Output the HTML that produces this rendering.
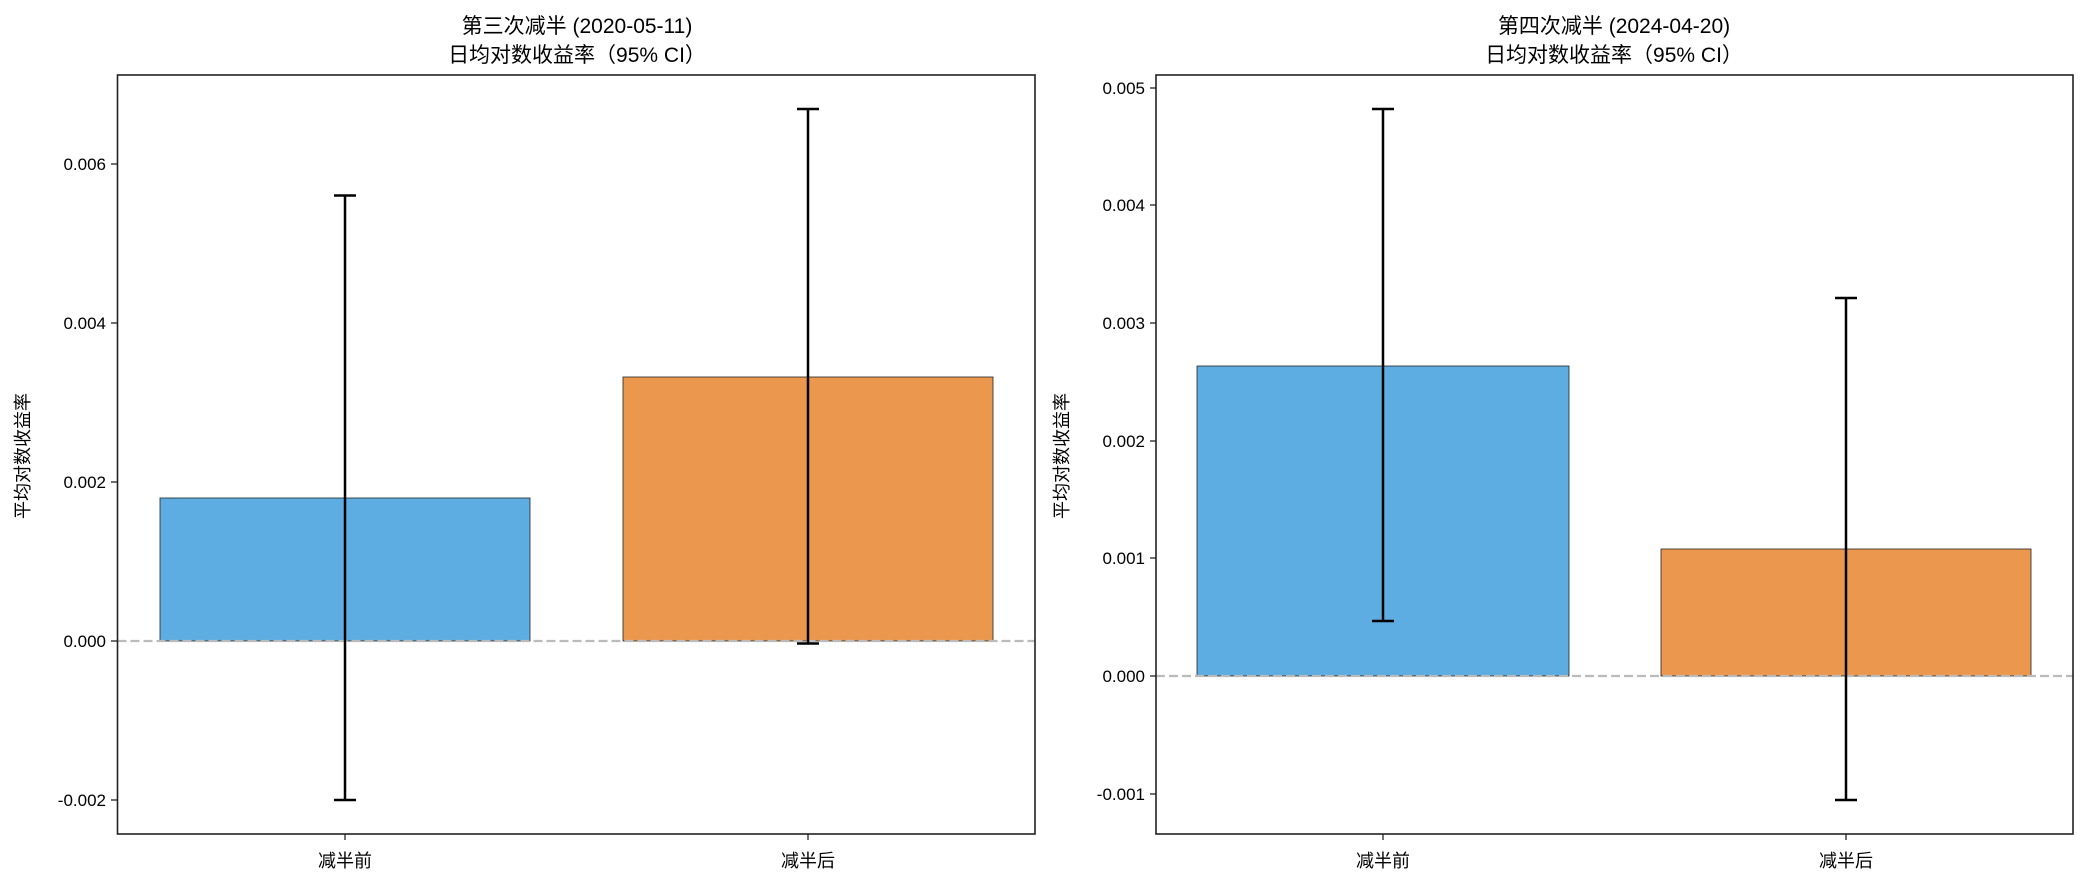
<!DOCTYPE html>
<html><head><meta charset="utf-8"><style>
body{margin:0;background:#fff}
text{font-family:"Liberation Sans","Noto Sans CJK SC",sans-serif;fill:#000}
</style></head><body>
<svg width="2085" height="884" viewBox="0 0 2085 884" xmlns="http://www.w3.org/2000/svg">
<rect width="2085" height="884" fill="#fff"/>
<g>
<text x="577" y="33" font-size="21" text-anchor="middle">第三次减半 (2020-05-11)</text>
<text x="577" y="62" font-size="21" text-anchor="middle">日均对数收益率（95% CI）</text>
<rect x="160" y="498" width="370" height="143" fill="#5dade2" stroke="#222" stroke-width="0.8"/>
<rect x="623" y="377" width="370" height="264" fill="#eb984e" stroke="#222" stroke-width="0.8"/>
<line x1="117.5" y1="641" x2="1035" y2="641" stroke="#bbb" stroke-width="2.2" stroke-dasharray="9,4"/>
<g stroke="#000" stroke-width="2.5">
<line x1="345" y1="195.5" x2="345" y2="800"/><line x1="334" y1="195.5" x2="356" y2="195.5"/><line x1="334" y1="800" x2="356" y2="800"/>
<line x1="808" y1="109" x2="808" y2="643.5"/><line x1="797" y1="109" x2="819" y2="109"/><line x1="797" y1="643.5" x2="819" y2="643.5"/>
</g>
<rect x="117.5" y="75" width="917.5" height="759" fill="none" stroke="#222" stroke-width="1.6"/>
<g stroke="#222" stroke-width="1.3">
<line x1="111" y1="164" x2="117.5" y2="164"/><line x1="111" y1="323" x2="117.5" y2="323"/><line x1="111" y1="482" x2="117.5" y2="482"/><line x1="111" y1="641" x2="117.5" y2="641"/><line x1="111" y1="800" x2="117.5" y2="800"/>
<line x1="345" y1="834" x2="345" y2="840"/><line x1="808" y1="834" x2="808" y2="840"/>
</g>
<g font-size="17" text-anchor="end">
<text x="106" y="170">0.006</text><text x="106" y="329">0.004</text><text x="106" y="488">0.002</text><text x="106" y="647">0.000</text><text x="106" y="806">-0.002</text>
</g>
<g font-size="18" text-anchor="middle"><text x="345" y="867">减半前</text><text x="808" y="867">减半后</text></g>
<text transform="translate(29,456) rotate(-90)" font-size="18" text-anchor="middle">平均对数收益率</text>
</g>
<g>
<text x="1614" y="33" font-size="21" text-anchor="middle">第四次减半 (2024-04-20)</text>
<text x="1614" y="62" font-size="21" text-anchor="middle">日均对数收益率（95% CI）</text>
<rect x="1197" y="366" width="372" height="310" fill="#5dade2" stroke="#222" stroke-width="0.8"/>
<rect x="1661" y="549" width="370" height="127" fill="#eb984e" stroke="#222" stroke-width="0.8"/>
<line x1="1156" y1="676" x2="2073" y2="676" stroke="#bbb" stroke-width="2.2" stroke-dasharray="9,4"/>
<g stroke="#000" stroke-width="2.5">
<line x1="1383" y1="109" x2="1383" y2="621"/><line x1="1372" y1="109" x2="1394" y2="109"/><line x1="1372" y1="621" x2="1394" y2="621"/>
<line x1="1846" y1="298" x2="1846" y2="800"/><line x1="1835" y1="298" x2="1857" y2="298"/><line x1="1835" y1="800" x2="1857" y2="800"/>
</g>
<rect x="1156" y="75" width="917" height="759" fill="none" stroke="#222" stroke-width="1.6"/>
<g stroke="#222" stroke-width="1.3">
<line x1="1150" y1="88" x2="1156" y2="88"/><line x1="1150" y1="205" x2="1156" y2="205"/><line x1="1150" y1="323" x2="1156" y2="323"/><line x1="1150" y1="441" x2="1156" y2="441"/><line x1="1150" y1="558" x2="1156" y2="558"/><line x1="1150" y1="676" x2="1156" y2="676"/><line x1="1150" y1="794" x2="1156" y2="794"/>
<line x1="1383" y1="834" x2="1383" y2="840"/><line x1="1846" y1="834" x2="1846" y2="840"/>
</g>
<g font-size="17" text-anchor="end">
<text x="1145" y="94">0.005</text><text x="1145" y="211">0.004</text><text x="1145" y="329">0.003</text><text x="1145" y="447">0.002</text><text x="1145" y="564">0.001</text><text x="1145" y="682">0.000</text><text x="1145" y="800">-0.001</text>
</g>
<g font-size="18" text-anchor="middle"><text x="1383" y="867">减半前</text><text x="1846" y="867">减半后</text></g>
<text transform="translate(1068,456) rotate(-90)" font-size="18" text-anchor="middle">平均对数收益率</text>
</g>
</svg>
</body></html>
